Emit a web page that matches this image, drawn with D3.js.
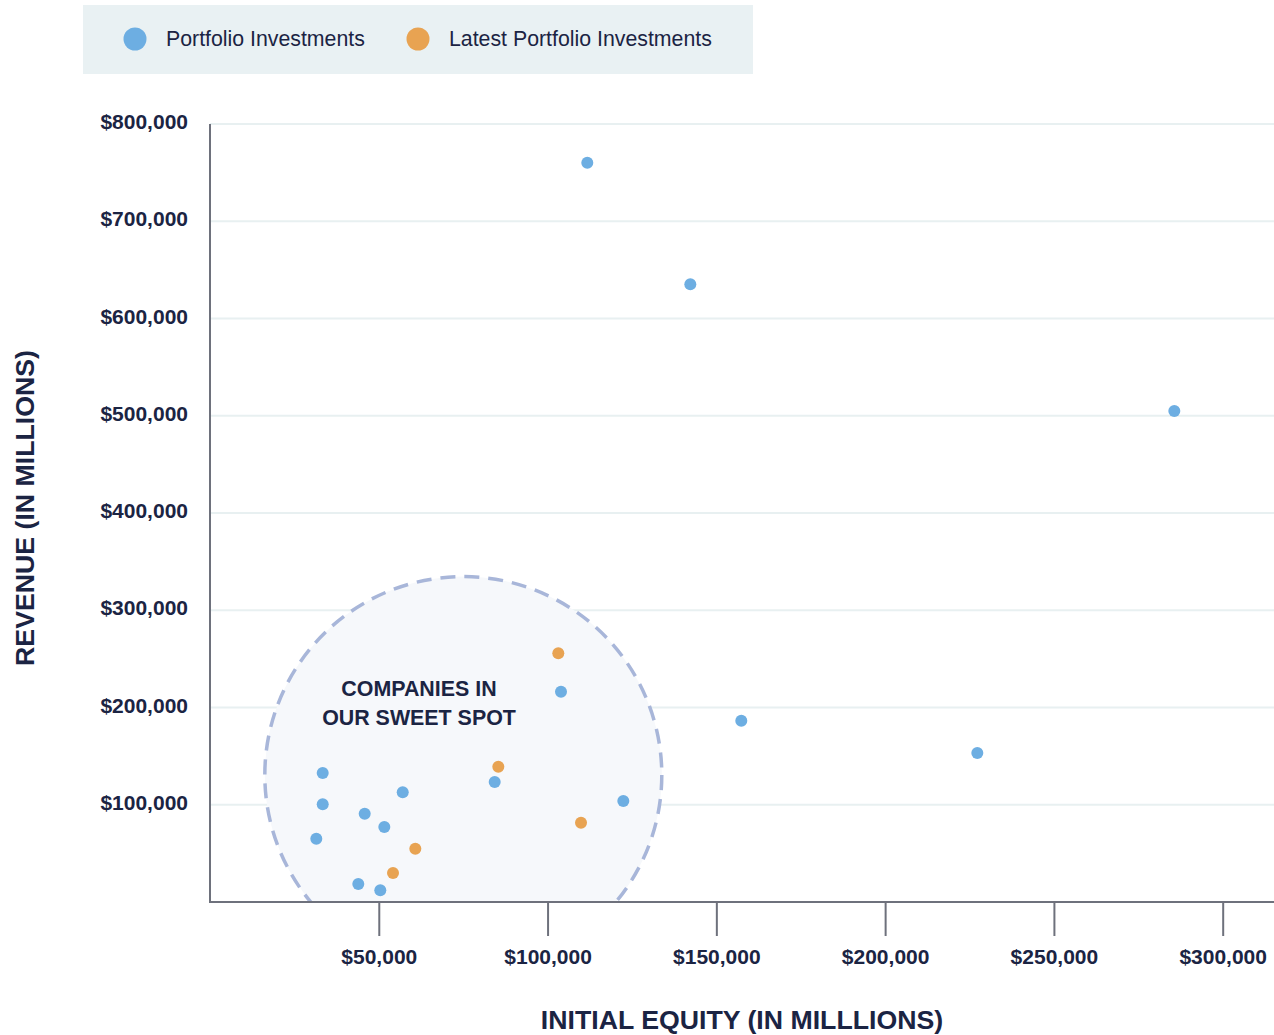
<!DOCTYPE html>
<html>
<head>
<meta charset="utf-8">
<script src="https://cdn.jsdelivr.net/npm/d3@7"></script>
<style>
  html, body { margin: 0; padding: 0; background: #ffffff; }
  svg { display: block; font-family: "Liberation Sans", Arial, sans-serif; }
</style>
</head>
<body>
<svg id="chart" width="1274" height="1035"></svg>
<script>
// ---- Data ----
const portfolioEquity  = [111770, 142290, 285670, 157390, 227310, 103980, 84340, 122440, 33390, 33390, 57090, 45830, 51640, 31490, 43930, 50450];
const portfolioRevenue = [760200, 635200, 504900, 186400, 153200, 216200, 123400, 103900, 132600, 100500, 112800, 90800, 77100, 65100, 18500, 12000];
const latestEquity  = [103180, 85410, 109910, 60820, 54210];
const latestRevenue = [255700, 139100, 81500, 54800, 29800];
const xTicks = [50000, 100000, 150000, 200000, 250000, 300000];
const yTicks = [100000, 200000, 300000, 400000, 500000, 600000, 700000, 800000];
const seriesNames = ["Portfolio Investments", "Latest Portfolio Investments"];
const sweetSpotCenter = [75040, 130500];
const sweetSpotRadiusEquity = 58800;
const sweetSpotLabel = ["COMPANIES IN", "OUR SWEET SPOT"];
const xTitle = "INITIAL EQUITY (IN MILLLIONS)";
const yTitle = "REVENUE (IN MILLIONS)";

// ---- Styles ----
const BLUE = "#6daee2", ORANGE = "#e8a352", INK = "#1b2443", AXIS = "#6e717c", GRID = "#e8f0f1";

const svg = d3.select("#chart");
const x = d3.scaleLinear().domain([0, 315200]).range([210, 1274]);
const y = d3.scaleLinear().domain([0, 800000]).range([902, 124]);
const fmt = d => "$" + d3.format(",")(d);

// legend
const lg = svg.append("g");
lg.append("rect").attr("x", 83).attr("y", 5).attr("width", 670).attr("height", 69).attr("fill", "#e9f1f3");
const legendItems = [{name: seriesNames[0], color: BLUE, cx: 135, tx: 166}, {name: seriesNames[1], color: ORANGE, cx: 418, tx: 449}];
legendItems.forEach(it => {
  lg.append("circle").attr("cx", it.cx).attr("cy", 39).attr("r", 11.5).attr("fill", it.color);
  lg.append("text").attr("x", it.tx).attr("y", 39).attr("dy", "0.35em")
    .attr("font-size", 21.3).attr("fill", INK).text(it.name);
});

// gridlines
svg.append("g").selectAll("line").data(yTicks).join("line")
  .attr("x1", 210).attr("x2", 1274)
  .attr("y1", d => y(d)).attr("y2", d => y(d))
  .attr("stroke", GRID).attr("stroke-width", 2);

// sweet spot circle (clipped at x-axis)
svg.append("clipPath").attr("id", "plotclip").append("rect")
  .attr("x", 0).attr("y", 0).attr("width", 1274).attr("height", y(0));
const rPx = x(sweetSpotRadiusEquity) - x(0);
svg.append("circle")
  .attr("clip-path", "url(#plotclip)")
  .attr("cx", x(sweetSpotCenter[0])).attr("cy", y(sweetSpotCenter[1])).attr("r", rPx)
  .attr("fill", "#f6f8fb")
  .attr("stroke", "#a8b6d9").attr("stroke-width", 3.5).attr("stroke-dasharray", "15,9");

svg.append("text").attr("text-anchor", "middle").attr("font-size", 21.4).attr("font-weight", "bold").attr("fill", INK)
  .selectAll("tspan").data(sweetSpotLabel).join("tspan")
  .attr("x", 419).attr("y", (d, i) => 695.5 + i * 29).text(d => d);

// y axis
const yAxis = svg.append("g").attr("transform", "translate(210,0)")
  .call(d3.axisLeft(y).tickValues(yTicks).tickSize(0).tickPadding(22).tickFormat(fmt));
yAxis.select(".domain").remove();
yAxis.selectAll("text").attr("font-size", 21).attr("font-weight", "bold").attr("fill", INK)
  .attr("font-family", "Liberation Sans, Arial, sans-serif").attr("dy", "0.22em");
svg.append("line").attr("x1", 210).attr("x2", 210).attr("y1", y(800000)).attr("y2", y(0))
  .attr("stroke", AXIS).attr("stroke-width", 2);

// x axis
const xAxis = svg.append("g").attr("transform", `translate(0,${y(0)})`)
  .call(d3.axisBottom(x).tickValues(xTicks).tickSize(34).tickPadding(13).tickFormat(fmt));
xAxis.select(".domain").remove();
xAxis.selectAll(".tick line").attr("stroke", AXIS).attr("stroke-width", 2);
xAxis.selectAll("text").attr("font-size", 21).attr("font-weight", "bold").attr("fill", INK)
  .attr("font-family", "Liberation Sans, Arial, sans-serif");
svg.append("line").attr("x1", 209).attr("x2", 1274).attr("y1", y(0)).attr("y2", y(0))
  .attr("stroke", AXIS).attr("stroke-width", 2);

// points
const portfolio = portfolioEquity.map((e, i) => ({e, r: portfolioRevenue[i]}));
const latest = latestEquity.map((e, i) => ({e, r: latestRevenue[i]}));
svg.append("g").selectAll("circle").data(portfolio).join("circle")
  .attr("cx", d => x(d.e)).attr("cy", d => y(d.r)).attr("r", 6).attr("fill", BLUE);
svg.append("g").selectAll("circle").data(latest).join("circle")
  .attr("cx", d => x(d.e)).attr("cy", d => y(d.r)).attr("r", 6).attr("fill", ORANGE);

// axis titles
svg.append("text").attr("x", 742).attr("y", 1020).attr("dy", "0.35em").attr("text-anchor", "middle")
  .attr("font-size", 26.7).attr("font-weight", "bold").attr("fill", INK).text(xTitle);
svg.append("text").attr("transform", "translate(25,508) rotate(-90)").attr("dy", "0.35em").attr("text-anchor", "middle")
  .attr("font-size", 26.7).attr("font-weight", "bold").attr("fill", INK).text(yTitle);
</script>
</body>
</html>
